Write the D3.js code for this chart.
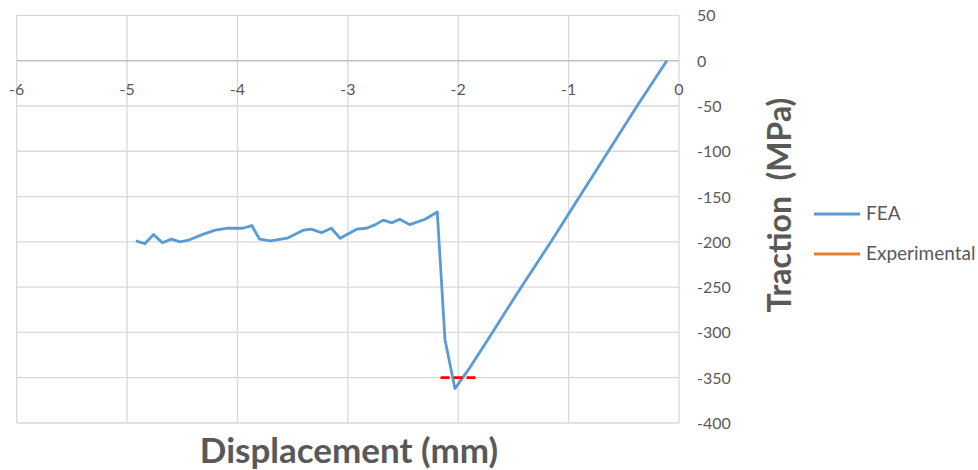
<html>
<head>
<script src="https://d3js.org/d3.v7.min.js"></script>
<style>
  body { margin: 0; background: #fff; }
  text { font-family: Lato, "Open Sans", sans-serif; fill: #595959; }
</style>
</head>
<body>
<script>
// FEA traction-displacement curve
const feaX = [-4.92, -4.84, -4.76, -4.68, -4.60, -4.52, -4.44, -4.32, -4.20, -4.10, -3.95, -3.87,
              -3.80, -3.70, -3.55, -3.40, -3.33, -3.24, -3.15, -3.07, -2.92, -2.83, -2.75, -2.68,
              -2.60, -2.53, -2.44, -2.30, -2.19, -2.12, -2.03, -1.89, -1.69, -1.43, -1.16, -0.90,
              -0.64, -0.38, -0.11];
const feaY = [-199, -202, -192, -201, -197, -200, -198, -192, -187, -185, -185, -182,
              -197, -199, -196, -187, -186, -190, -185, -196, -186, -185, -181, -176,
              -179, -175, -181, -175, -167, -308, -362, -338, -300, -250, -200, -150,
              -100, -50, 0];
const expX = [-2.16, -1.84];
const expY = [-350, -350];
const xTicks = [-6, -5, -4, -3, -2, -1, 0];
const yTicks = [50, 0, -50, -100, -150, -200, -250, -300, -350, -400];
const legendNames = ["FEA", "Experimental"];
const legendColors = ["#5b9bd5", "#ed7d31"];

const svg = d3.select("body").append("svg").attr("width", 978).attr("height", 470);

let x = d3.scaleLinear().domain([-6, 0]).range([16.7, 679]);
let y = d3.scaleLinear().domain([-400, 50]).range([423, 15.4]);

// gridlines
let grid = svg.append("g");
grid.selectAll(".vg").data(xTicks).enter().append("line")
    .attr("x1", d => x(d)).attr("x2", d => x(d))
    .attr("y1", y(50)).attr("y2", y(-400))
    .attr("stroke", "#d9d9d9").attr("stroke-width", 1.3);
grid.selectAll(".hg").data(yTicks).enter().append("line")
    .attr("x1", x(-6)).attr("x2", x(0))
    .attr("y1", d => y(d)).attr("y2", d => y(d))
    .attr("stroke", d => d == 0 ? "#bfbfbf" : "#d9d9d9").attr("stroke-width", d => d == 0 ? 1.6 : 1.3);

// x tick labels, hanging under the zero line
svg.append("g").selectAll("text").data(xTicks).enter().append("text")
    .attr("x", d => x(d)).attr("y", y(0) + 34)
    .attr("text-anchor", "middle").attr("font-size", 16)
    .text(d => d);

// y tick labels on the right
svg.append("g").selectAll("text").data(yTicks).enter().append("text")
    .attr("x", 697).attr("y", d => y(d) + 6)
    .attr("text-anchor", "start").attr("font-size", 16)
    .text(d => d);

// series
let line = d3.line().x(d => x(d[0])).y(d => y(d[1]));
svg.append("path")
    .datum(d3.zip(feaX, feaY))
    .attr("fill", "none").attr("stroke", "#5b9bd5").attr("stroke-width", 2.8)
    .attr("stroke-linejoin", "round")
    .attr("d", line);
svg.append("path")
    .datum(d3.zip(expX, expY))
    .attr("fill", "none").attr("stroke", "#ff0000").attr("stroke-width", 2.8)
    .attr("stroke-dasharray", "9,4")
    .attr("d", line);

// axis titles
svg.append("text").attr("x", 349).attr("y", 463)
    .attr("text-anchor", "middle").attr("font-size", 35).attr("font-weight", "bold")
    .text("Displacement (mm)");
svg.append("text").attr("transform", "translate(791,205) rotate(-90)")
    .attr("text-anchor", "middle").attr("font-size", 32).attr("font-weight", "bold")
    .style("white-space", "pre")
    .text("Traction  (MPa)");

// legend
let legend = svg.append("g").selectAll("g").data(legendNames).enter().append("g")
    .attr("transform", (d, i) => "translate(814," + (214 + i * 40) + ")");
legend.append("line").attr("x1", 0).attr("x2", 46).attr("y1", 0).attr("y2", 0)
    .attr("stroke", (d, i) => legendColors[i]).attr("stroke-width", 2.8);
legend.append("text").attr("x", 52).attr("y", 6).attr("font-size", 19).text(d => d);
</script>
</body>
</html>
